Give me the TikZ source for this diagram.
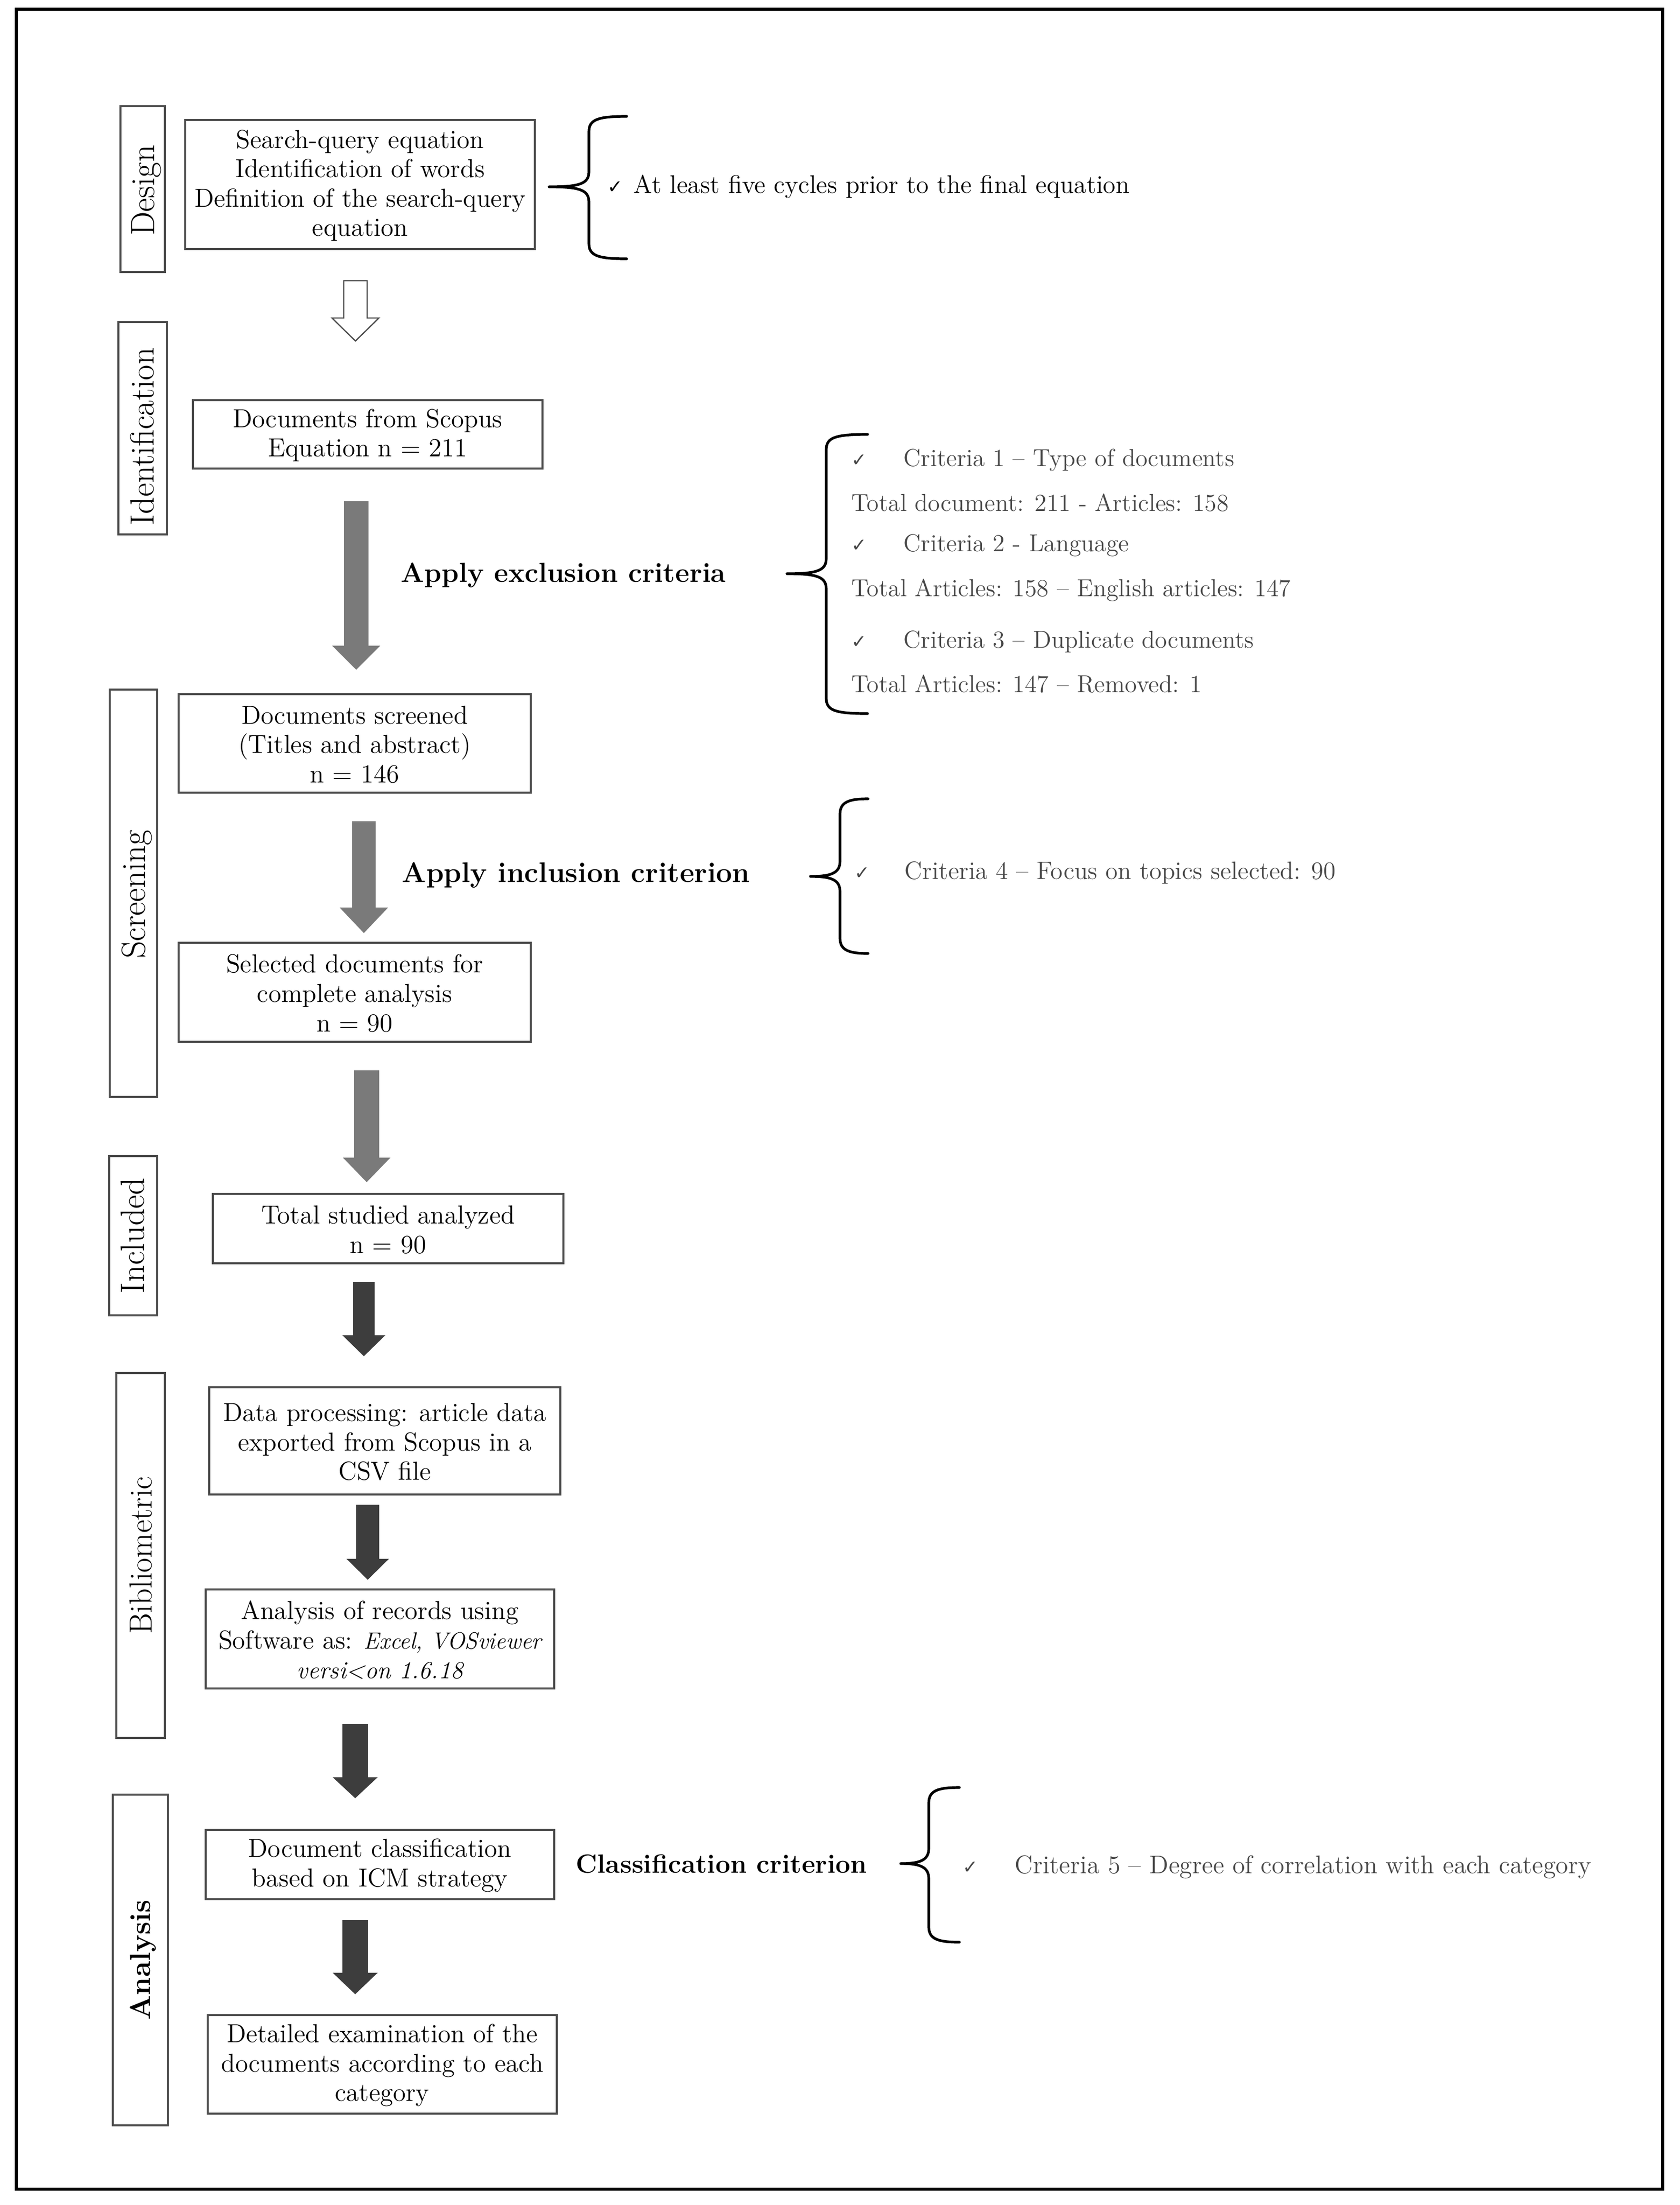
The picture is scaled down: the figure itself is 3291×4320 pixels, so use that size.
\documentclass[tikz,border=0pt]{standalone}
\usepackage{fontspec}
\newfontfamily\dejavu{DejaVu Sans}
\usetikzlibrary{fit}
\newcommand{\blockarrow}[7]{%
  \path[#7] ({#1-#5},#2) -- ({#1+#5},#2) -- ({#1+#5},#3) -- ({#1+#6},#3) -- (#1,#4) -- ({#1-#6},#3) -- ({#1-#5},#3) -- cycle;}
\newcommand{\critbrace}[6]{%
  \draw[bracestyle] (#1,#4) .. controls ({#2+18},#4) and (#2,{#4+6}) .. (#2,{#4+30}) -- (#2,{#5-30}) .. controls (#2,{#5-6}) and ({#2-18},#5) .. (#3,#5) .. controls ({#2-18},#5) and (#2,{#5+6}) .. (#2,{#5+30}) -- (#2,{#6-30}) .. controls (#2,{#6-6}) and ({#2+18},#6) .. (#1,#6);}
\begin{document}
\begin{tikzpicture}[x=0.25pt,y=-0.25pt,
  box/.style={draw=black!70, line width=0.8pt, inner sep=0pt},
  boxtext/.style={inner sep=0pt, align=center, yshift=-0.5pt, font={\fontsize{12.75}{14.4}\selectfont}},
  lab/.style={draw=black!70, line width=0.8pt, inner sep=0pt},
  labtext/.style={rotate=90, anchor=base, inner sep=0pt, font={\fontsize{16.5}{19}\selectfont}},
  crit/.style={anchor=base west, inner sep=0pt, text=black!72, font={\fontsize{12}{14.4}\selectfont}},
  chk/.style={anchor=base west, inner sep=0pt, text=black!72, font={\dejavu\fontsize{9}{10}\selectfont}},
  boldlab/.style={anchor=base west, inner sep=0pt, font={\bfseries\fontsize{13.5}{16}\selectfont}},
  bracestyle/.style={draw=black, line width=1.3pt, line cap=round, line join=round},
  grayarrow/.style={fill=black!52},
  darkarrow/.style={fill=black!76},
  hollowarrow/.style={fill=white, draw=black!70, line width=0.6pt}
]
\useasboundingbox (0,0) rectangle (3291,4320);
% outer frame
\node[draw=black, line width=1.5pt, inner sep=0pt, fit={(32,18) (3258,4289)}] (frame) {};

% phase labels
\node[lab, fit={(236,208) (323,533)}] (Ldesign) {};
\node[labtext] (tdesign) at (302,373) {Design};
\node[lab, fit={(232,631) (327,1047)}] (Lident) {};
\node[labtext] (tident) at (301,855) {Identification};
\node[lab, fit={(215,1351) (308,2149)}] (Lscreen) {};
\node[labtext] (tscreen) at (284,1752) {Screening};
\node[lab, fit={(214,2265) (308,2577)}] (Lincl) {};
\node[labtext] (tincl) at (282,2421) {Included};
\node[lab, fit={(228,2690) (323,3405)}] (Lbib) {};
\node[labtext, font={\fontsize{15.7}{18}\selectfont}] (tbib) at (297,3047) {Bibliometric};
\node[lab, fit={(221,3516) (329,4164)}] (Lana) {};
\node[labtext, font={\bfseries\fontsize{14.2}{17}\selectfont}] (tana) at (294,3840) {Analysis};

% content boxes
\node[box, fit={(363,235) (1048,488)}] (design) {};
\node[boxtext] (designt) at (design.center) {Search-query equation\\Identification of words\\Definition of the search-query\\equation};
\node[box, fit={(378,784) (1063,918)}] (scopus) {};
\node[boxtext] (scopust) at (scopus.center) {Documents from Scopus\\Equation n = 211};
\node[box, fit={(350,1360) (1040,1553)}] (screened) {};
\node[boxtext] (screenedt) at (screened.center) {Documents screened\\(Titles and abstract)\\n = 146};
\node[box, fit={(350,1847) (1040,2041)}] (selected) {};
\node[boxtext] (selectedt) at (selected.center) {Selected documents for\\complete analysis\\n = 90};
\node[box, fit={(417,2339) (1104,2475)}] (total) {};
\node[boxtext] (totalt) at (total.center) {Total studied analyzed\\n = 90};
\node[box, fit={(410,2718) (1098,2928)}] (dataproc) {};
\node[boxtext] (dataproct) at (dataproc.center) {Data processing: article data\\exported from Scopus in a\\CSV file};
\node[box, fit={(403,3114) (1086,3308)}] (records) {};
\node[boxtext] (recordst) at (records.center) {Analysis of records using\\Software as: {\fontsize{11.5}{14.4}\selectfont\itshape Excel, VOSviewer}\\{\fontsize{12}{14.4}\selectfont\itshape versi<on 1.6.18}};
\node[box, fit={(403,3585) (1086,3721)}] (classif) {};
\node[boxtext] (classift) at (classif.center) {Document classification\\based on ICM strategy};
\node[box, fit={(407,3948) (1091,4141)}] (detailed) {};
\node[boxtext] (detailedt) at (detailed.center) {Detailed examination of the\\documents according to each\\category};

% block arrows
\blockarrow{696.5}{550}{623}{668}{23}{46}{hollowarrow}
\blockarrow{698}{982}{1265}{1312}{24}{47}{grayarrow}
\blockarrow{713}{1609}{1778}{1828}{23}{47.5}{grayarrow}
\blockarrow{718.5}{2097}{2268}{2316}{24.5}{46.5}{grayarrow}
\blockarrow{713}{2512}{2616}{2657}{21}{42}{darkarrow}
\blockarrow{720.5}{2948}{3054}{3095}{22.5}{41.5}{darkarrow}
\blockarrow{696}{3378}{3482}{3523}{25}{44}{darkarrow}
\blockarrow{696}{3762}{3865}{3907}{25}{44}{darkarrow}

% criteria labels
\node[boldlab] (excl) at (785,1140) {Apply exclusion criteria};
\node[boldlab, font={\bfseries\fontsize{13.9}{16}\selectfont}] (incl) at (787,1728) {Apply inclusion criterion};
\node[boldlab, font={\bfseries\fontsize{12.9}{15}\selectfont}] (clcrit) at (1128,3669) {Classification criterion};

% braces
\critbrace{1228}{1154}{1076}{228}{366}{507}
\critbrace{1700}{1619}{1542}{851}{1124}{1398}
\critbrace{1701}{1646}{1588}{1565}{1717}{1868}
\critbrace{1880}{1820}{1765}{3502}{3651}{3805}

% design note
\node[chk, text=black] (k0) at (1190,378) {✓};
\node[crit, text=black, font={\fontsize{12.5}{15}\selectfont}] (n0) at (1241,378) {At least five cycles prior to the final equation};

% exclusion criteria
\node[chk] (k1) at (1668,913) {✓};
\node[crit] (c1) at (1770,913) {Criteria 1 – Type of documents};
\node[crit] (t1) at (1668,1001) {Total document: 211 - Articles: 158};
\node[chk] (k2) at (1668,1080) {✓};
\node[crit] (c2) at (1770,1080) {Criteria 2 - Language};
\node[crit] (t2) at (1668,1168) {Total Articles: 158 – English articles: 147};
\node[chk] (k3) at (1668,1269) {✓};
\node[crit] (c3) at (1770,1269) {Criteria 3 – Duplicate documents};
\node[crit] (t3) at (1668,1356) {Total Articles: 147 – Removed: 1};

% inclusion criterion
\node[chk] (k4) at (1674,1722) {✓};
\node[crit, font={\fontsize{12.25}{14.4}\selectfont}] (c4) at (1772,1722) {Criteria 4 – Focus on topics selected: 90};

% classification criterion
\node[chk] (k5) at (1886,3670) {✓};
\node[crit, font={\fontsize{12.5}{15}\selectfont}] (c5) at (1988,3670) {Criteria 5 – Degree of correlation with each category};
\end{tikzpicture}
\end{document}
